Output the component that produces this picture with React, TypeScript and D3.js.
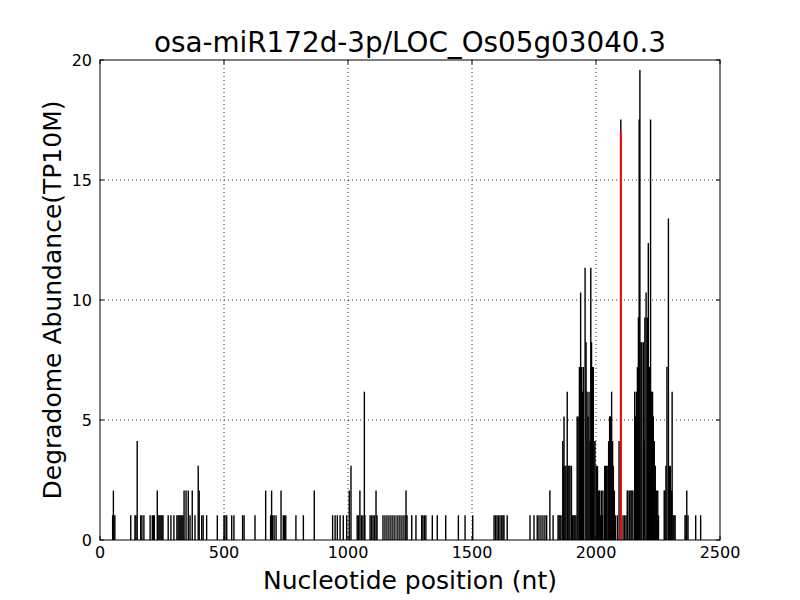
import React from "react";
import * as d3 from "d3";

const positions: number[] = [
  51, 54, 56, 60, 124, 141, 145, 150, 164, 169, 177, 202, 211, 215, 219,
  231, 234, 238, 242, 246, 250, 254, 275, 286, 298, 310, 315, 319, 323, 327, 331, 335,
  339, 347, 356, 363, 372, 383, 396, 400, 410, 416, 430, 473, 500, 504, 511, 531, 540, 575, 581,
  625, 668, 688, 692, 696, 702, 710, 730, 739, 744, 749, 790, 820, 864,
  938, 948, 957, 968, 981, 995, 1005, 1012, 1037, 1042, 1048, 1054, 1060, 1066, 1068,
  1089, 1095, 1101, 1107, 1113, 1117, 1141, 1149, 1157, 1165, 1173, 1181, 1189, 1198, 1206,
  1214, 1222, 1230, 1234, 1238, 1257, 1274, 1297, 1302, 1308, 1314, 1340, 1360, 1394, 1445,
  1472, 1503, 1589, 1595, 1601, 1607, 1613, 1620, 1625, 1629, 1642,
  1734, 1750, 1763, 1770, 1778, 1786, 1794, 1801, 1814, 1827, 1847, 1851, 1855, 1859,
  1866, 1869, 1871, 1875, 1879, 1884, 1887, 1891, 1895, 1901, 1904, 1907, 1911, 1915, 1919,
  1924, 1928, 1933, 1938, 1942, 1946, 1949, 1956, 1960, 1964, 1968, 1972, 1976, 1979, 1982,
  1986, 1989, 1992, 1996, 2001, 2006, 2011, 2015, 2019, 2022, 2026, 2028, 2035, 2038, 2042,
  2045, 2051, 2055, 2058, 2063, 2067, 2070, 2074, 2078, 2086, 2093, 2100, 2109, 2115, 2121,
  2126, 2129, 2136, 2141, 2145, 2149, 2156, 2159, 2163, 2167, 2171, 2174, 2177, 2181, 2185,
  2191, 2193, 2197, 2202, 2207, 2211, 2215, 2220, 2224, 2228, 2231, 2235, 2239, 2244, 2249,
  2252, 2275, 2278, 2282, 2286, 2292, 2296, 2300, 2305, 2307, 2311, 2315, 2319,
  2359, 2363, 2366, 2371, 2402, 2422,
];

const abundances: number[] = [
  1.03, 2.06, 1.03, 1.03, 1.03, 1.03, 1.03, 4.12, 1.03, 1.03, 1.03, 1.03, 1.03, 1.03, 1.03,
  2.06, 1.03, 1.03, 1.03, 1.03, 1.03, 1.03, 1.03, 1.03, 1.03, 1.03, 1.03, 1.03, 1.03, 1.03, 1.03, 1.03,
  2.06, 2.06, 2.06, 1.03, 2.06, 1.03, 3.09, 2.06, 1.03, 1.03, 1.03, 1.03, 1.03, 1.03, 1.03, 1.03, 1.03, 1.03, 1.03,
  1.03, 2.06, 1.03, 2.06, 1.03, 1.03, 1.03, 2.06, 1.03, 1.03, 1.03, 1.03, 1.03, 2.06,
  1.03, 1.03, 1.03, 1.03, 1.03, 1.03, 2.06, 3.09, 1.03, 1.03, 2.06, 1.03, 1.03, 6.18, 1.03,
  1.03, 1.03, 1.03, 1.03, 2.06, 1.03, 1.03, 1.03, 1.03, 1.03, 1.03, 1.03, 1.03, 1.03, 1.03,
  1.03, 1.03, 1.03, 2.06, 1.03, 1.03, 1.03, 1.03, 1.03, 1.03, 1.03, 1.03, 1.03, 1.03, 1.03,
  1.03, 1.03, 1.03, 1.03, 1.03, 1.03, 1.03, 1.03, 1.03, 1.03, 1.03,
  1.03, 1.03, 1.03, 1.03, 1.03, 1.03, 1.03, 1.03, 2.06, 1.03, 1.03, 1.03, 1.03, 1.03,
  4.12, 3.09, 5.15, 3.09, 3.09, 6.18, 3.09, 3.09, 3.09, 3.09, 1.03, 1.03, 1.03, 1.03, 1.03,
  5.15, 5.15, 7.21, 10.31, 7.21, 6.18, 7.21, 11.34, 8.24, 6.18, 5.15, 6.18, 4.12, 11.34, 8.24,
  7.21, 7.21, 4.12, 4.12, 3.09, 3.09, 2.06, 2.06, 1.03, 2.06, 1.03, 2.06, 3.09, 3.09, 3.09,
  3.09, 4.12, 5.15, 5.15, 6.18, 4.12, 3.09, 2.06, 1.03, 1.03, 4.12, 17.52, 1.03, 1.03, 1.03,
  2.06, 2.06, 2.06, 2.06, 2.06, 2.06, 6.18, 5.15, 6.18, 7.21, 9.27, 17.52, 19.58, 8.24, 8.24,
  8.24, 4.12, 9.27, 10.31, 9.27, 12.37, 7.21, 17.52, 6.18, 6.18, 5.15, 4.12, 3.09, 2.06, 2.06,
  1.03, 2.06, 2.06, 3.09, 7.21, 13.4, 3.09, 3.09, 2.06, 6.18, 1.03, 1.03, 1.03,
  1.03, 1.03, 2.06, 1.03, 1.03, 1.03,
];

const cleavagePosition: number[] = [2100];
const cleavageAbundance: number[] = [17.0];

const xTicks: number[] = [0, 500, 1000, 1500, 2000, 2500];
const yTicks: number[] = [0, 5, 10, 15, 20];

const titleText = "osa-miR172d-3p/LOC_Os05g03040.3";
const xLabelText = "Nucleotide position (nt)";
const yLabelText = "Degradome Abundance(TP10M)";

export default function App() {
  const left = 100, right = 720, top = 60, bottom = 540;
  const x = d3.scaleLinear().domain([0, 2500]).range([left, right]);
  const y = d3.scaleLinear().domain([0, 20]).range([bottom, top]);
  const font = "DejaVu Sans, sans-serif";
  const tickLen = 4;

  return (
    <svg width={800} height={600} style={{ position: "absolute", left: 0, top: 0, background: "#fff" }}>
      <rect x={0} y={0} width={800} height={600} fill="#fff" />
      {/* grid */}
      {xTicks.slice(1, -1).map((t) => (
        <line key={"gx" + t} x1={x(t)} x2={x(t)} y1={top} y2={bottom} stroke="#000" strokeWidth={0.8} strokeDasharray="1,3" />
      ))}
      {yTicks.slice(1, -1).map((t) => (
        <line key={"gy" + t} x1={left} x2={right} y1={y(t)} y2={y(t)} stroke="#000" strokeWidth={0.8} strokeDasharray="1,3" />
      ))}
      {/* data lines */}
      {positions.map((p, i) => (
        <line key={"d" + i} x1={x(p)} x2={x(p)} y1={y(0)} y2={y(abundances[i])} stroke="#000" strokeWidth={1.4} />
      ))}
      {cleavagePosition.map((p, i) => (
        <line key={"c" + i} x1={x(p)} x2={x(p)} y1={y(0)} y2={y(cleavageAbundance[i])} stroke="#ff0000" strokeWidth={2} />
      ))}
      {/* frame */}
      <rect x={left} y={top} width={right - left} height={bottom - top} fill="none" stroke="#000" strokeWidth={1} />
      {/* ticks */}
      {xTicks.map((t) => (
        <g key={"xt" + t}>
          <line x1={x(t)} x2={x(t)} y1={bottom} y2={bottom - tickLen} stroke="#000" />
          <line x1={x(t)} x2={x(t)} y1={top} y2={top + tickLen} stroke="#000" />
          <text x={x(t)} y={558} fontFamily={font} fontSize={16} textAnchor="middle">{t}</text>
        </g>
      ))}
      {yTicks.map((t) => (
        <g key={"yt" + t}>
          <line x1={left} x2={left + tickLen} y1={y(t)} y2={y(t)} stroke="#000" />
          <line x1={right} x2={right - tickLen} y1={y(t)} y2={y(t)} stroke="#000" />
          <text x={92} y={y(t) + 5.5} fontFamily={font} fontSize={16} textAnchor="end">{t}</text>
        </g>
      ))}
      <text x={410} y={52} fontFamily={font} fontSize={27.8} textAnchor="middle">{titleText}</text>
      <text x={410} y={589} fontFamily={font} fontSize={25} textAnchor="middle">{xLabelText}</text>
      <text transform="translate(61,300) rotate(-90)" fontFamily={font} fontSize={25} textAnchor="middle">{yLabelText}</text>
    </svg>
  );
}
